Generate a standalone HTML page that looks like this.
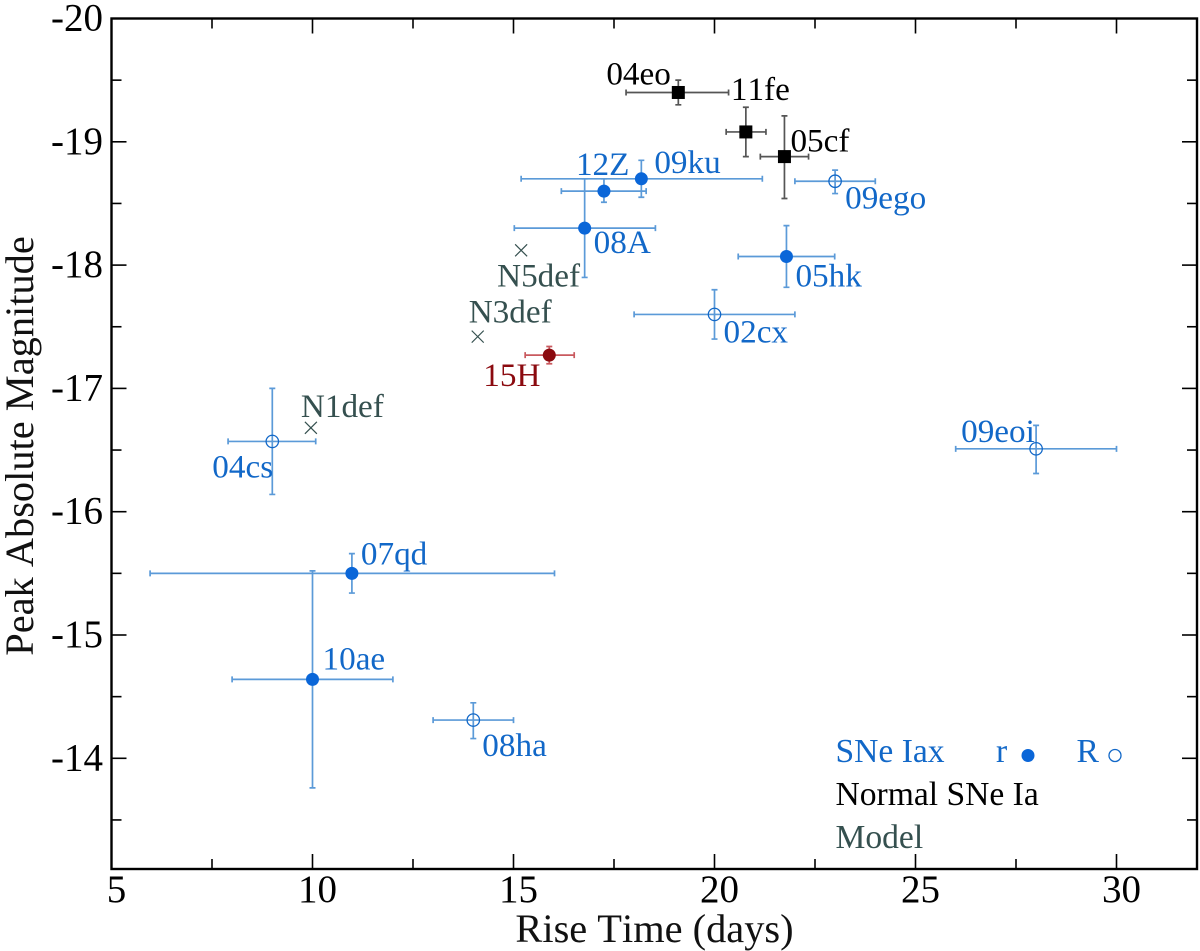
<!DOCTYPE html>
<html lang="en">
<head>
<meta charset="utf-8">
<title>Peak Absolute Magnitude vs Rise Time</title>
<style>
html,body{margin:0;padding:0;background:#fff;}
svg{display:block;font-family:"Liberation Serif",serif;font-kerning:none;}
</style>
</head>
<body>
<svg id="chart" xmlns="http://www.w3.org/2000/svg" width="1200" height="951" viewBox="0 0 1200 951">
  <rect x="0" y="0" width="1200" height="951" fill="#fff"/>
  <g id="marks"></g>
  <g id="axes"></g>
  <rect x="111.5" y="18.5" width="1085.5" height="850.5" fill="none" stroke="#000" stroke-width="2.4"/>
  <text x="654.5" y="942" font-size="40.4" text-anchor="middle" fill="#111">Rise Time (days)</text>
  <text transform="translate(33,446) rotate(-90)" font-size="40.4" text-anchor="middle" fill="#111">Peak Absolute Magnitude</text>
  <g font-size="33.6">
    <text x="835.5" y="762" fill="#1268c8">SNe Iax</text>
    <text x="996" y="762" fill="#1268c8">r</text>
    <circle cx="1028" cy="755.5" r="6.5" fill="#0a66d8"/>
    <text x="1076.5" y="762" fill="#1268c8">R</text>
    <circle cx="1115" cy="755.5" r="6" fill="none" stroke="#1268c8" stroke-width="1.3"/>
    <text x="835.5" y="805" fill="#000">Normal SNe Ia</text>
    <text x="835.5" y="848" fill="#35504f">Model</text>
  </g>
</svg>
<script>
// Supernova measurements: rise time in days and peak absolute magnitude
const names = ["04eo","11fe","05cf","09ego","12Z","09ku","08A","05hk","02cx","15H","04cs","07qd","10ae","08ha","09eoi"];
const groups = ["normal","normal","normal","open","filled","filled","filled","filled","open","red","open","filled","filled","open","open"];
const riseTime = [19.1,20.78,21.74,23.0,17.25,18.18,16.77,21.79,20.0,15.89,9.0,10.98,10.0,14.0,28.0];
const riseLow = [17.8,20.29,21.14,22.0,16.19,15.19,15.02,20.59,18.0,15.29,7.9,5.96,8.0,13.0,26.0];
const riseHigh = [20.35,21.28,22.34,24.0,18.3,21.19,18.53,22.99,22.0,16.51,10.08,16.02,12.0,15.0,30.0];
const peakMag = [-19.4,-19.08,-18.88,-18.68,-18.6,-18.7,-18.3,-18.07,-17.6,-17.27,-16.57,-15.5,-14.64,-14.31,-16.51];
const magBright = [-19.5,-19.28,-19.21,-18.77,-18.7,-18.85,-18.7,-18.32,-17.8,-17.34,-17.0,-15.66,-15.52,-14.45,-16.7];
const magFaint = [-19.3,-18.88,-18.54,-18.58,-18.51,-18.55,-17.9,-17.82,-17.4,-17.2,-16.14,-15.34,-13.76,-14.16,-16.31];
const modelNames = ["N1def","N3def","N5def"];
const modelRise = [9.96,14.11,15.19];
const modelMag = [-16.68,-17.42,-18.12];
const xTickLabels = [5,10,15,20,25,30];
const xMinorTicks = [7.5,12.5,17.5,22.5,27.5];
const yTickLabels = [-20,-19,-18,-17,-16,-15,-14];
const yMinorTicks = [-19.5,-18.5,-17.5,-16.5,-15.5,-14.5,-13.5];

// Axis functions
function xAxis(v){ return 111.5 + (v - 5) * 40.2; }
function yAxis(v){ return 18.5 + (v + 20) * 123.3; }

// Label placement relative to each point, in pixels (layout, not data)
const labelLayout = {
  "04eo":[-72,-8],"11fe":[-15,-32],"05cf":[6,-5],"09ego":[10,27],"12Z":[-28,-16],
  "09ku":[13,-6],"08A":[9,25],"05hk":[9,30],"02cx":[9,28],"15H":[-66,31],
  "04cs":[-60,36],"07qd":[9,-9],"10ae":[10,-10],"08ha":[9,36],"09eoi":[-75,-7],
  "N1def":[-10,-11],"N3def":[-9,-14],"N5def":[-24,36]
};
const barColor = {normal:"#555555",open:"#5b9ad8",filled:"#5b9ad8",red:"#c9595e"};
const markColor = {normal:"#000000",open:"#1268c8",filled:"#0a66d8",red:"#8b0a0f"};
const textColor = {normal:"#000000",open:"#1268c8",filled:"#1268c8",red:"#8b0a0f"};
const NS = "http://www.w3.org/2000/svg";
const marks = document.getElementById("marks");
const axes = document.getElementById("axes");

function make(parent, tag, attrs, text){
  const el = document.createElementNS(NS, tag);
  for (const k in attrs) el.setAttribute(k, attrs[k]);
  if (text !== undefined) el.textContent = text;
  parent.appendChild(el);
  return el;
}

// Ticks and tick labels
function drawXTick(v, len, sw){
  const top = make(axes, "line", {x1:xAxis(v),x2:xAxis(v),y1:18.5,y2:18.5+len,stroke:"#000","stroke-width":sw});
  
  
  const bottom = make(axes, "line", {x1:xAxis(v),x2:xAxis(v),y1:869,y2:869-len,stroke:"#000","stroke-width":sw});
  
  
}
function drawYTick(v, len, sw){
  const left = make(axes, "line", {x1:111.5,x2:111.5+len,y1:yAxis(v),y2:yAxis(v),stroke:"#000","stroke-width":sw});
  
  
  const right = make(axes, "line", {x1:1197,x2:1197-len,y1:yAxis(v),y2:yAxis(v),stroke:"#000","stroke-width":sw});
  
  
}
xMinorTicks.forEach(function(v){ drawXTick(v, 10, 1.6); });
yMinorTicks.forEach(function(v){ drawYTick(v, 10, 1.6); });
xTickLabels.forEach(function(v){
  drawXTick(v, 15, 1.6);
  const t = make(axes, "text", {x:xAxis(v)+5,y:902,"font-size":39,"text-anchor":"middle",fill:"#000"}, String(v));
  
  
});
yTickLabels.forEach(function(v){
  drawYTick(v, 15, 1.6);
  const t = make(axes, "text", {x:103,y:yAxis(v)+12,"font-size":39,"text-anchor":"end",fill:"#000"}, String(v));
  
  
});

// Error bars and markers
names.forEach(function(name, i){
  const g = groups[i];
  const cx = xAxis(riseTime[i]), cy = yAxis(peakMag[i]);
  const xl = xAxis(riseLow[i]), xh = xAxis(riseHigh[i]);
  const yb = yAxis(magBright[i]), yf = yAxis(magFaint[i]);
  const group = make(marks, "g", {stroke:barColor[g],"stroke-width":1.7,fill:"none"});
  
  
  const hBar = make(group, "path", {d:"M"+xl+" "+cy+"H"+xh+"M"+xl+" "+(cy-3)+"V"+(cy+3)+"M"+xh+" "+(cy-3)+"V"+(cy+3)});
  
  
  const vBar = make(group, "path", {d:"M"+cx+" "+yb+"V"+yf+"M"+(cx-3)+" "+yb+"H"+(cx+3)+"M"+(cx-3)+" "+yf+"H"+(cx+3)});
  
  
  let m;
  if (g === "normal") {
    m = make(group, "rect", {x:cx-6.5,y:cy-6.5,width:13,height:13,fill:markColor[g],stroke:"none"});
  } else if (g === "open") {
    m = make(group, "circle", {cx:cx,cy:cy,r:6.2,fill:"none",stroke:markColor[g],"stroke-width":1.3});
  } else {
    m = make(group, "circle", {cx:cx,cy:cy,r:6.5,fill:markColor[g],stroke:"none"});
  }
  
  
  const off = labelLayout[name];
  const lab = make(marks, "text", {x:cx+off[0],y:cy+off[1],"font-size":33.2,fill:textColor[g]}, name);
  
  
});

// Model crosses
modelNames.forEach(function(name, i){
  const cx = xAxis(modelRise[i]), cy = yAxis(modelMag[i]);
  const c = make(marks, "path", {d:"M"+(cx-6)+" "+(cy-6)+"L"+(cx+6)+" "+(cy+6)+"M"+(cx-6)+" "+(cy+6)+"L"+(cx+6)+" "+(cy-6),stroke:"#35504f","stroke-width":1.2,fill:"none"});
  
  
  const off = labelLayout[name];
  const lab = make(marks, "text", {x:cx+off[0],y:cy+off[1],"font-size":33.2,fill:"#35504f"}, name);
  
  
});
</script>
</body>
</html>
